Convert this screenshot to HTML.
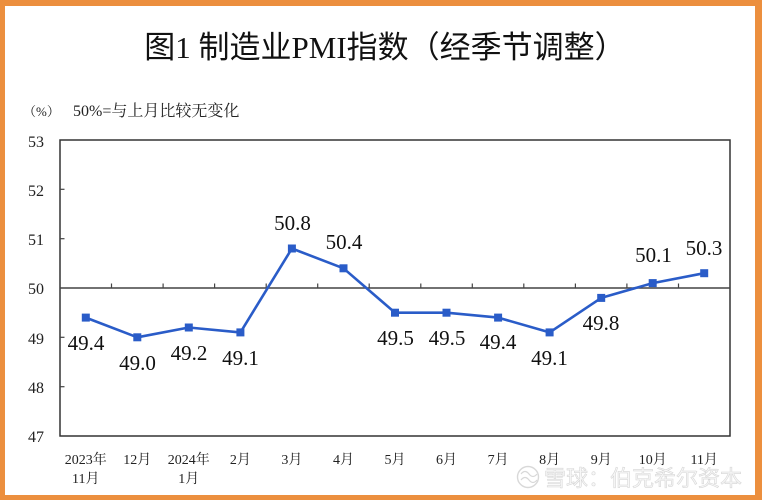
<!DOCTYPE html>
<html>
<head>
<meta charset="utf-8">
<style>
  html,body{margin:0;padding:0;background:#ffffff;}
  svg{display:block;}
  .lat{font-family:"Liberation Serif","Noto Serif CJK SC",serif;}
  .ttl{font-family:"Liberation Serif","Noto Sans CJK SC",sans-serif;}
</style>
</head>
<body>
<svg width="762" height="500" viewBox="0 0 762 500" xmlns="http://www.w3.org/2000/svg">
  <!-- orange frame -->
  <rect x="0" y="0" width="762" height="500" fill="#ec8f3e"/>
  <rect x="5" y="6" width="750" height="489" fill="#ffffff"/>

  <!-- title -->
  <text class="ttl" x="385" y="58" font-size="31" text-anchor="middle" fill="#111">图1  制造业PMI指数（经季节调整）</text>

  <!-- subtitle -->
  <text class="lat" x="23" y="116" font-size="13" fill="#222">（%）</text>
  <text class="lat" x="73" y="116" font-size="16" fill="#222">50%=与上月比较无变化</text>

  <!-- plot frame -->
  <rect x="60" y="140" width="670" height="296" fill="none" stroke="#333" stroke-width="1.5"/>
  <!-- 50 line -->
  <line x1="60" y1="288" x2="730" y2="288" stroke="#444" stroke-width="1.6"/>
  <!-- x ticks on 50 line -->
  <g stroke="#444" stroke-width="1.2">
    <line x1="111.5" y1="283.5" x2="111.5" y2="288"/>
    <line x1="163.1" y1="283.5" x2="163.1" y2="288"/>
    <line x1="214.6" y1="283.5" x2="214.6" y2="288"/>
    <line x1="266.2" y1="283.5" x2="266.2" y2="288"/>
    <line x1="317.7" y1="283.5" x2="317.7" y2="288"/>
    <line x1="369.2" y1="283.5" x2="369.2" y2="288"/>
    <line x1="420.8" y1="283.5" x2="420.8" y2="288"/>
    <line x1="472.3" y1="283.5" x2="472.3" y2="288"/>
    <line x1="523.8" y1="283.5" x2="523.8" y2="288"/>
    <line x1="575.4" y1="283.5" x2="575.4" y2="288"/>
    <line x1="626.9" y1="283.5" x2="626.9" y2="288"/>
    <line x1="678.5" y1="283.5" x2="678.5" y2="288"/>
  </g>
  <!-- y ticks -->
  <g stroke="#444" stroke-width="1.2">
    <line x1="60" y1="189.3" x2="64.5" y2="189.3"/>
    <line x1="60" y1="238.7" x2="64.5" y2="238.7"/>
    <line x1="60" y1="337.3" x2="64.5" y2="337.3"/>
    <line x1="60" y1="386.7" x2="64.5" y2="386.7"/>
  </g>

  <!-- y labels -->
  <g class="lat" font-size="16" fill="#222" text-anchor="end">
    <text x="44" y="147">53</text>
    <text x="44" y="196">52</text>
    <text x="44" y="245">51</text>
    <text x="44" y="294">50</text>
    <text x="44" y="344">49</text>
    <text x="44" y="393">48</text>
    <text x="44" y="442">47</text>
  </g>

  <!-- series -->
  <polyline fill="none" stroke="#2a5cc8" stroke-width="2.6" stroke-linejoin="round"
    points="85.8,317.6 137.3,337.3 188.8,327.5 240.4,332.4 291.9,248.5 343.5,268.3 395.0,312.7 446.5,312.7 498.1,317.6 549.6,332.4 601.2,297.9 652.7,283.1 704.2,273.2"/>
  <g fill="#2a5cc8">
    <rect x="81.8" y="313.6" width="8" height="8"/>
    <rect x="133.3" y="333.3" width="8" height="8"/>
    <rect x="184.8" y="323.5" width="8" height="8"/>
    <rect x="236.4" y="328.4" width="8" height="8"/>
    <rect x="287.9" y="244.5" width="8" height="8"/>
    <rect x="339.5" y="264.3" width="8" height="8"/>
    <rect x="391.0" y="308.7" width="8" height="8"/>
    <rect x="442.5" y="308.7" width="8" height="8"/>
    <rect x="494.1" y="313.6" width="8" height="8"/>
    <rect x="545.6" y="328.4" width="8" height="8"/>
    <rect x="597.2" y="293.9" width="8" height="8"/>
    <rect x="648.7" y="279.1" width="8" height="8"/>
    <rect x="700.2" y="269.2" width="8" height="8"/>
  </g>

  <!-- data labels -->
  <g class="lat" font-size="21" fill="#111" text-anchor="middle">
    <text x="86" y="350">49.4</text>
    <text x="137.5" y="370">49.0</text>
    <text x="189" y="360">49.2</text>
    <text x="240.5" y="365">49.1</text>
    <text x="292.5" y="230">50.8</text>
    <text x="344" y="249">50.4</text>
    <text x="395.5" y="345">49.5</text>
    <text x="447" y="345">49.5</text>
    <text x="498" y="349">49.4</text>
    <text x="549.5" y="365">49.1</text>
    <text x="601" y="330">49.8</text>
    <text x="653.5" y="262">50.1</text>
    <text x="704" y="255">50.3</text>
  </g>

  <!-- x labels -->
  <g class="lat" font-size="14" fill="#222" text-anchor="middle">
    <text x="85.8" y="464">2023年</text>
    <text x="85.8" y="483">11月</text>
    <text x="137.3" y="464">12月</text>
    <text x="188.8" y="464">2024年</text>
    <text x="188.8" y="483">1月</text>
    <text x="240.4" y="464">2月</text>
    <text x="291.9" y="464">3月</text>
    <text x="343.5" y="464">4月</text>
    <text x="395.0" y="464">5月</text>
    <text x="446.5" y="464">6月</text>
    <text x="498.1" y="464">7月</text>
    <text x="549.6" y="464">8月</text>
    <text x="601.2" y="464">9月</text>
    <text x="652.7" y="464">10月</text>
    <text x="704.2" y="464">11月</text>
  </g>

  <!-- watermark -->
  <g opacity="0.8">
    <circle cx="528" cy="477" r="10.5" fill="none" stroke="#cfcfcf" stroke-width="1.4"/>
    <path d="M521,474 q4,-5 8,0 q4,5 8,0 M521,480 q4,-5 8,0 q4,5 8,0" fill="none" stroke="#cfcfcf" stroke-width="1.2"/>
    <text x="544" y="486" font-family="'Noto Sans CJK SC',sans-serif" font-size="22" fill="#f6f6f6" stroke="#cdcdcd" stroke-width="0.6">雪球：伯克希尔资本</text>
  </g>
</svg>
</body>
</html>
